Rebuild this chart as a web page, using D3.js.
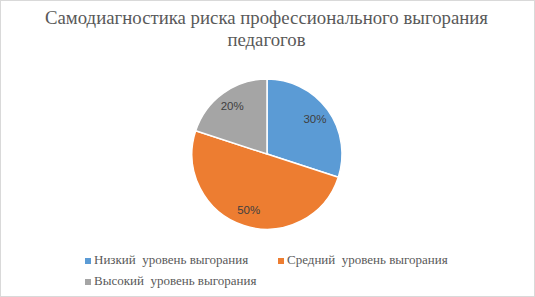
<!DOCTYPE html>
<html>
<head>
<meta charset="UTF-8">
<script src="https://d3js.org/d3.v7.min.js"></script>
<style>
  body { margin: 0; background: #fff; }
  .serif { font-family: 'Liberation Serif', serif; }
  .sans { font-family: 'Liberation Sans', sans-serif; }
</style>
</head>
<body>
<script>
var width = 535, height = 297;

// data
var categories = ['Низкий  уровень выгорания', 'Средний  уровень выгорания', 'Высокий  уровень выгорания'];
var values = [30, 50, 20];
var colors = ['#5b9bd5', '#ed7d31', '#a5a5a5'];
var titleLines = ['Самодиагностика риска профессионального выгорания', 'педагогов'];

var svg = d3.select('body').append('svg').attr('width', width).attr('height', height);

svg.append('rect')
  .attr('x', 0.5).attr('y', 0.5)
  .attr('width', width - 1).attr('height', height - 1)
  .attr('fill', '#fff').attr('stroke', '#d9d9d9');

// title
svg.selectAll('.title').data(titleLines).join('text')
  .attr('class', 'serif')
  .attr('x', width / 2 - 1)
  .attr('y', function(d, i) { return 24 + i * 22; })
  .attr('text-anchor', 'middle')
  .style('font-size', '18.8px')
  .style('fill', '#595959')
  .text(function(d) { return d; });

// pie
var cx = 267, cy = 154, r = 75;
var pie = d3.pie().sort(null).value(function(d) { return d; });
var arc = d3.arc().innerRadius(0).outerRadius(r);
var labelArc = d3.arc().innerRadius(r * 0.79).outerRadius(r * 0.79);
var arcs = pie(values);

var g = svg.append('g').attr('transform', 'translate(' + cx + ',' + cy + ')');
g.selectAll('path').data(arcs).join('path')
  .attr('d', arc)
  .attr('fill', function(d, i) { return colors[i]; })
  .attr('stroke', '#fff')
  .attr('stroke-width', 1.5);

g.selectAll('.lbl').data(arcs).join('text')
  .attr('class', 'sans')
  .attr('transform', function(d) { return 'translate(' + labelArc.centroid(d) + ')'; })
  .attr('text-anchor', 'middle')
  .attr('dy', '0.35em')
  .style('font-size', '11.5px')
  .style('fill', '#404040')
  .text(function(d) { return d.data + '%'; });

// legend
var legendPos = [[85, 264], [278, 264], [85, 285]];
var lg = svg.selectAll('.leg').data(categories).join('g')
  .attr('transform', function(d, i) { return 'translate(' + legendPos[i][0] + ',' + legendPos[i][1] + ')'; });
lg.append('rect')
  .attr('x', 0).attr('y', -6)
  .attr('width', 6).attr('height', 6)
  .attr('fill', function(d, i) { return colors[i]; });
lg.append('text')
  .attr('class', 'serif')
  .attr('x', 9).attr('y', 0)
  .style('font-size', '13px')
  .style('fill', '#595959')
  .style('white-space', 'pre')
  .text(function(d) { return d; });
</script>
</body>
</html>
